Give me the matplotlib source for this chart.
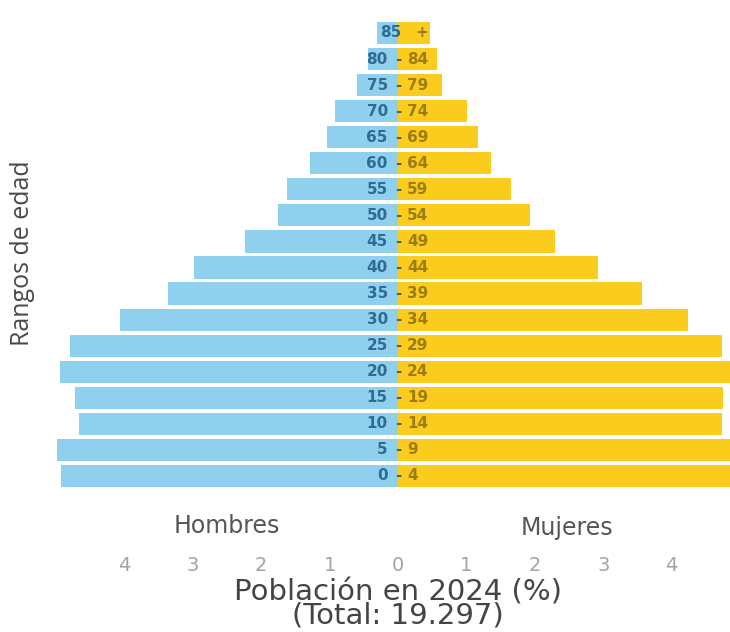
import matplotlib
matplotlib.use("Agg")
import matplotlib.pyplot as plt
import matplotlib.transforms as mtransforms
import numpy as np

# ---- data (percent of total population, 2024) ----
age_groups = ["0 - 4", "5 - 9", "10 - 14", "15 - 19", "20 - 24", "25 - 29",
              "30 - 34", "35 - 39", "40 - 44", "45 - 49", "50 - 54", "55 - 59",
              "60 - 64", "65 - 69", "70 - 74", "75 - 79", "80 - 84", "85 +"]
men = [4.93, 4.99, 4.66, 4.72, 4.94, 4.80, 4.06, 3.36, 2.98, 2.24, 1.75, 1.62,
       1.29, 1.04, 0.92, 0.60, 0.44, 0.31]
women = [4.92, 4.95, 4.74, 4.75, 4.90, 4.74, 4.24, 3.57, 2.92, 2.30, 1.93, 1.65,
         1.36, 1.17, 1.01, 0.64, 0.57, 0.47]
tick_values = [-4, -3, -2, -1, 0, 1, 2, 3, 4]
tick_labels = ["4", "3", "2", "1", "0", "1", "2", "3", "4"]
side_labels = ["Hombres", "Mujeres"]
x_title = "Población en 2024 (%)\n(Total: 19.297)"
y_title = "Rangos de edad"

BLUE = "#8fd0ee"
YELLOW = "#fbcb1e"
TXT_BLUE = "#2e6d93"
TXT_GOLD = "#9b7d14"
TXT_MID = "#3f6470"

fig = plt.figure(figsize=(7.3, 6.32), dpi=100)
ax = fig.add_axes([0, 0.2263, 1, 0.7421])

y = np.arange(len(age_groups))
ax.barh(y, [-m for m in men], height=0.85, color=BLUE, edgecolor="none")
ax.barh(y, women, height=0.85, color=YELLOW, edgecolor="none")

ax.set_xlim(-5.82, 4.854)
ax.set_ylim(-0.5, len(age_groups) - 0.5)
for s in ax.spines.values():
    s.set_visible(False)
ax.set_yticks([])
ax.set_xticks(tick_values)
ax.set_xticklabels(tick_labels)
ax.tick_params(axis="x", length=0, pad=48, labelsize=14, labelcolor="#a3a3a3")

# age labels in the middle of the pyramid
for yi, g in zip(y, age_groups):
    parts = g.split(" ")
    if len(parts) == 3:
        left, mid, right = parts
        ax.text(-0.15, yi, left, ha="right", va="center", fontsize=11,
                fontweight="bold", color=TXT_BLUE)
        ax.text(0.0, yi, mid, ha="center", va="center", fontsize=11,
                fontweight="bold", color=TXT_MID)
        ax.text(0.13, yi, right, ha="left", va="center", fontsize=11,
                fontweight="bold", color=TXT_GOLD)
    else:
        left, right = parts
        ax.text(0.05, yi, left, ha="right", va="center", fontsize=11,
                fontweight="bold", color=TXT_BLUE)
        ax.text(0.26, yi, right, ha="left", va="center", fontsize=11,
                fontweight="bold", color=TXT_GOLD)

trans = mtransforms.blended_transform_factory(ax.transData, ax.transAxes)
ax.text(-2.51, -0.094, side_labels[0], transform=trans, ha="center",
        va="baseline", fontsize=17, color="#555555")
ax.text(2.47, -0.098, side_labels[1], transform=trans, ha="center",
        va="baseline", fontsize=17, color="#555555")

ax.set_xlabel(x_title, fontsize=21, color="#444444", linespacing=0.8)
ax.xaxis.set_label_coords(0.545, -0.19)

ax.set_ylabel(y_title, fontsize=18, color="#4a4a4a", family=["Open Sans", "DejaVu Sans"])
ax.yaxis.set_label_coords(0.048, 0.503)

fig.savefig("out.png", dpi=100)
